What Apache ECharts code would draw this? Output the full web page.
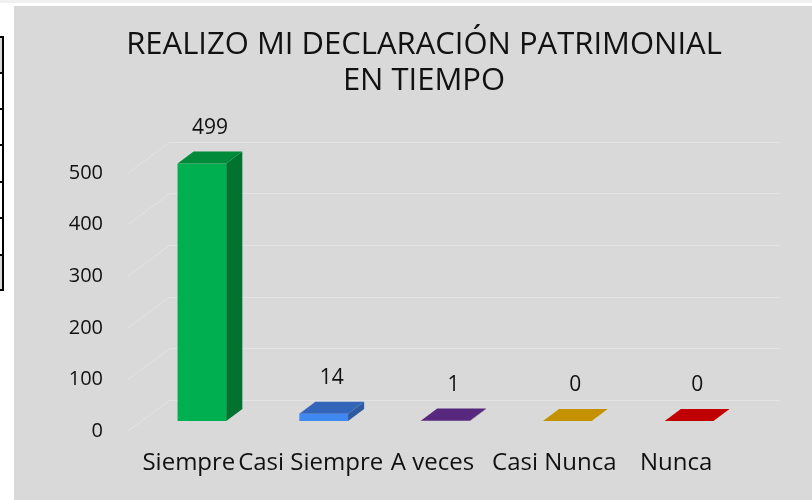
<!DOCTYPE html>
<html>
<head>
<meta charset="utf-8">
<script src="https://cdn.jsdelivr.net/npm/echarts@6/dist/echarts.min.js"></script>
<style>
  html, body { margin: 0; padding: 0; background: #ffffff; }
  #chart { width: 812px; height: 500px; }
</style>
</head>
<body>
<div id="chart"></div>
<script>
// Chart data
var categories = ['Siempre', 'Casi Siempre', 'A veces', 'Casi Nunca', 'Nunca'];
var values = [499, 14, 1, 0, 0];
var yTicks = [0, 100, 200, 300, 400, 500];

// face colours per bar: front, top, side
var frontColors = ['#00b050', '#3f88f2', '#5a2a80', '#c69300', '#c00000'];
var topColors = ['#008a3a', '#3366bb', '#57287d', '#c49200', '#c10000'];
var sideColors = ['#00732f', '#2e5a9f', '#43205f', '#9a7300', '#900000'];

var FONT = '"Open Sans"';

var chartDom = document.getElementById('chart');
var myChart = echarts.init(chartDom);

// 3D column drawn on the front grid
function renderBar(params, api) {
  var i = api.value(0);
  var v = api.value(1);
  var top = api.coord([i, v]);
  var base = api.coord([i, 0]);
  var w = api.size([1, 0])[0] * 0.4;
  var dx = w * 0.33, dy = w * 0.245;
  var x0 = top[0] - w / 2, x1 = top[0] + w / 2;
  var yT = top[1], yB = base[1];
  var children = [];
  if (yB - yT > 0.5) {
    children.push({
      type: 'rect',
      shape: { x: x0, y: yT, width: w, height: yB - yT },
      style: { fill: frontColors[i] }
    });
    children.push({
      type: 'polygon',
      shape: { points: [[x1, yT], [x1 + dx, yT - dy], [x1 + dx, yB - dy], [x1, yB]] },
      style: { fill: sideColors[i] }
    });
  }
  children.push({
    type: 'polygon',
    shape: { points: [[x0, yT], [x1, yT], [x1 + dx, yT - dy], [x0 + dx, yT - dy]] },
    style: { fill: topColors[i] }
  });
  children.push({
    type: 'text',
    style: {
      x: top[0] + dx / 2, y: yT - dy - 24,
      text: String(values[i]),
      fill: '#111111', font: '21px ' + FONT,
      align: 'center', verticalAlign: 'middle'
    }
  });
  return { type: 'group', children: children };
}

// diagonal gridlines on the left side wall
function renderSideLine(params, api) {
  var p = api.coord([0, api.value(1)]);
  var x = params.coordSys.x;
  return {
    type: 'line',
    shape: { x1: x, y1: p[1], x2: x - 42, y2: p[1] + 31 },
    style: { stroke: '#e3e3e3', lineWidth: 1 }
  };
}

var option = {
  backgroundColor: '#ffffff',
  animation: false,
  title: {
    text: 'REALIZO MI DECLARACIÓN PATRIMONIAL\nEN TIEMPO',
    left: 419,
    top: 22,
    textAlign: 'center',
    textStyle: {
      fontFamily: FONT,
      fontSize: 31,
      fontWeight: 'normal',
      color: '#111111',
      lineHeight: 36
    }
  },
  graphic: [
    { type: 'rect', z: -10, shape: { x: 0, y: 0, width: 812, height: 3 }, style: { fill: '#f0f0f0' } },
    { type: 'rect', z: -10, shape: { x: 14, y: 6, width: 798, height: 494 }, style: { fill: '#d9d9d9' } },
    // bit of the neighbouring table at the left edge
    { type: 'rect', z: -10, shape: { x: 0, y: 37, width: 3, height: 36 }, style: { fill: '#d9d9d9' } },
    { type: 'rect', z: -10, shape: { x: 0, y: 255, width: 3, height: 35 }, style: { fill: '#d9d9d9' } },
    { type: 'line', z: -9, shape: { x1: 3, y1: 37, x2: 3, y2: 291 }, style: { stroke: '#000', lineWidth: 2 } },
    { type: 'group', z: -9, children: [37, 73, 109, 145, 182, 218, 255, 290].map(function (y) {
      return { type: 'line', shape: { x1: 0, y1: y, x2: 4, y2: y }, style: { stroke: '#000', lineWidth: 2 } };
    }) }
  ],
  grid: [
    // bar front plane
    { left: 141, right: 62, top: 163, bottom: 79 },
    // back wall
    { left: 170, right: 32, top: 142, bottom: 100 },
    // front edge (axis labels)
    { left: 128, right: 75, top: 173, bottom: 69 }
  ],
  xAxis: [
    { gridIndex: 0, type: 'category', data: categories, show: false },
    { gridIndex: 1, type: 'category', data: categories, show: false },
    {
      gridIndex: 2, type: 'category', data: categories,
      axisLine: { show: false }, axisTick: { show: false },
      axisLabel: { interval: 0, margin: 20, color: '#111111', fontFamily: FONT, fontSize: 24 }
    }
  ],
  yAxis: [
    { gridIndex: 0, type: 'value', min: 0, max: 500, interval: 100, show: false },
    {
      gridIndex: 1, type: 'value', min: 0, max: 500, interval: 100,
      axisLine: { show: false }, axisTick: { show: false }, axisLabel: { show: false },
      splitLine: { lineStyle: { color: '#e3e3e3', width: 1 } }
    },
    {
      gridIndex: 2, type: 'value', min: 0, max: 500, interval: 100,
      axisLine: { show: false }, axisTick: { show: false }, splitLine: { show: false },
      axisLabel: { margin: 25, color: '#111111', fontFamily: FONT, fontSize: 20 }
    }
  ],
  series: [
    {
      type: 'custom',
      xAxisIndex: 1, yAxisIndex: 1,
      renderItem: renderSideLine,
      data: yTicks.map(function (t) { return [0, t]; }),
      silent: true, z: 1
    },
    {
      type: 'custom',
      xAxisIndex: 0, yAxisIndex: 0,
      renderItem: renderBar,
      encode: { x: 0, y: 1 },
      data: categories.map(function (c, i) { return [i, values[i]]; }),
      z: 5
    }
  ]
};

option && myChart.setOption(option);
</script>
</body>
</html>
